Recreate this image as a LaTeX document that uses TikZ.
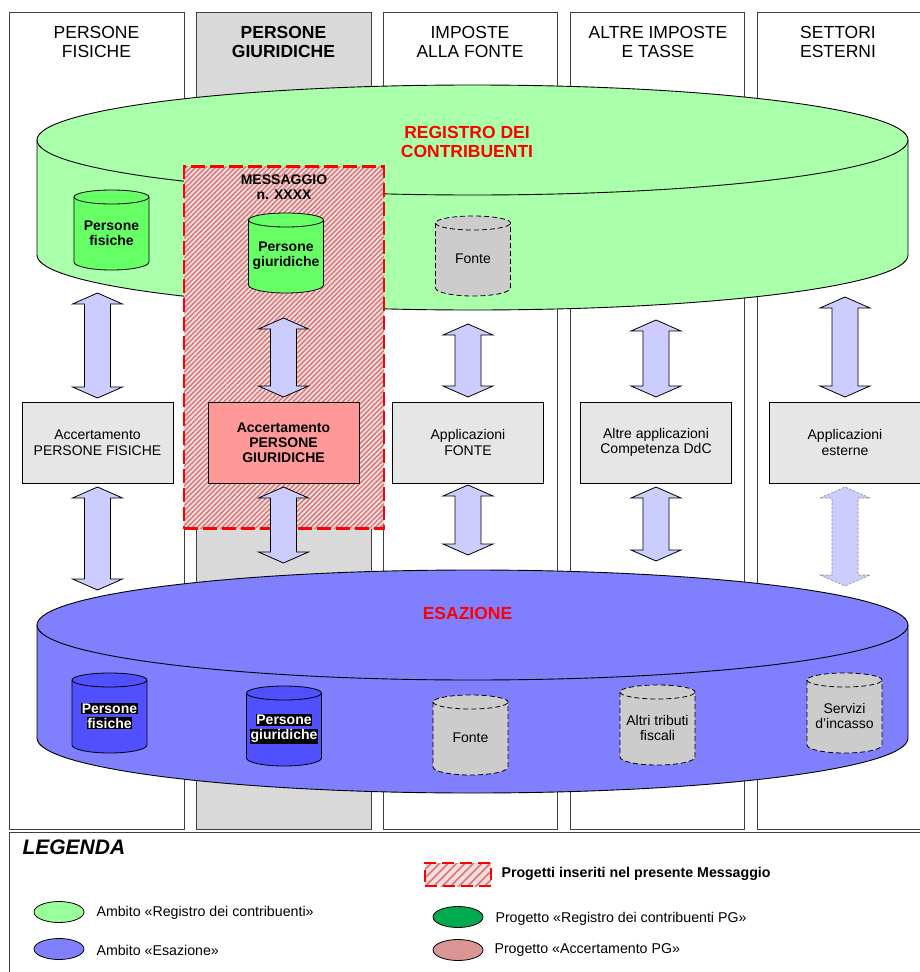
\documentclass[tikz,border=0pt]{standalone}
\usepackage{fontspec}
\setmainfont{Liberation Sans}
\usetikzlibrary{calc,shapes.geometric,patterns.meta}

\definecolor{colgray}{HTML}{D9D9D9}
\definecolor{reggreen}{HTML}{AAFFAA}
\definecolor{drumgreen}{HTML}{66FF66}
\definecolor{esablue}{HTML}{8080FF}
\definecolor{drumblue}{HTML}{5050FF}
\definecolor{drumgray}{HTML}{CCCCCC}
\definecolor{boxgray}{HTML}{E6E6E6}
\definecolor{boxred}{HTML}{FF9999}
\definecolor{arrowblue}{HTML}{CCCCFF}
\definecolor{hatchbg}{HTML}{F6DEDE}
\definecolor{hatchline}{HTML}{D87474}
\definecolor{leggreen}{HTML}{99FF99}
\definecolor{projgreen}{HTML}{00AA4F}
\definecolor{projpink}{HTML}{D99694}

% white text on black, as in the Esazione drums
\newcommand{\inv}[1]{{\setlength{\fboxsep}{0.8pt}\colorbox{black}{\textcolor{white}{#1}}}}

% block arrow with two heads, from top tip to bottom tip
\newcommand{\bigarrow}[3][]{%
  \draw[blockarrow,#1] ($(#2)+(-25,11)$) -- (#2) -- ($(#2)+(25,11)$) -- ($(#2)+(13,11)$)
    -- ($(#3)+(13,-11)$) -- ($(#3)+(25,-11)$) -- (#3) -- ($(#3)+(-25,-11)$)
    -- ($(#3)+(-13,-11)$) -- ($(#2)+(-13,11)$) -- cycle;}

% small database drum: name, style, centre x, top y, text
\newcommand{\drum}[5]{%
  \draw[#2] (#3-37.5,#4+7) -- (#3-37.5,#4+72)
    arc[start angle=180,end angle=360,x radius=37.5pt,y radius=8pt] -- (#3+37.5,#4+7)
    arc[start angle=0,end angle=180,x radius=37.5pt,y radius=7pt] -- cycle;
  \draw[#2, fill=none] (#3-37.5,#4+7) arc[start angle=180,end angle=360,x radius=37.5pt,y radius=7pt];
  \node (#1) at (#3,#4+43) [drumtext] {#5};}

\tikzset{
  column/.style={draw=black!75, line width=1pt},
  head/.style={align=center, font=\fontsize{17.5}{19.5}\selectfont},
  headbold/.style={align=center, font=\fontsize{17.5}{19.5}\selectfont\bfseries},
  title/.style={align=center, text=red, font=\fontsize{17.5}{19}\selectfont\bfseries},
  app/.style={draw, line width=0.9pt, fill=boxgray, minimum width=151pt, minimum height=81pt,
    align=center, font=\fontsize{14}{15.5}\selectfont},
  drumtext/.style={align=center, font=\fontsize{14}{15}\selectfont},
  greendrum/.style={draw, line width=0.8pt, fill=drumgreen},
  bluedrum/.style={draw, line width=0.8pt, fill=drumblue},
  graydrum/.style={draw, line width=0.8pt, fill=drumgray, dash pattern=on 5pt off 3pt},
  blockarrow/.style={draw, line width=0.8pt, fill=arrowblue, line join=miter},
  msgbox/.style={draw=red, line width=2.5pt, dash pattern=on 14pt off 5pt,
    preaction={fill=hatchbg}, pattern={Lines[angle=45,distance=3.5pt,line width=1.4pt]},
    pattern color=hatchline},
  legtext/.style={anchor=west, font=\fontsize{14.2}{16}\selectfont},
  legshape/.style={ellipse, draw, line width=0.8pt, minimum width=50pt, minimum height=21pt}
}

\begin{document}
\begin{tikzpicture}[x=1pt, y=-1pt]
\useasboundingbox[fill=white] (0,0) rectangle (919,972);

% columns
\draw[column] (9,12) rectangle (184,829);
\draw[column, fill=colgray] (196,12) rectangle (371,829);
\draw[column] (383,12) rectangle (557,829);
\draw[column] (570,12) rectangle (744,829);
\draw[column] (757,12) rectangle (925,829);

\node (hpf) at (96.5, 42) [head] {PERSONE\\FISICHE};
\node (hpg) at (283.5, 42) [headbold] {PERSONE\\GIURIDICHE};
\node (hif) at (470, 42) [head] {IMPOSTE\\ALLA FONTE};
\node (hai) at (658, 42) [head] {ALTRE IMPOSTE\\E TASSE};
\node (hse) at (838, 42) [head] {SETTORI\\ESTERNI};

% registro dei contribuenti
\draw[line width=0.9pt, fill=reggreen] (37,140) -- (37,255)
  arc[start angle=180,end angle=360,x radius=435.5pt,y radius=55pt] -- (908,140)
  arc[start angle=0,end angle=180,x radius=435.5pt,y radius=55pt] -- cycle;
\draw[line width=0.9pt] (37,140) arc[start angle=180,end angle=360,x radius=435.5pt,y radius=55pt];
\node (reg) at (467, 141.5) [title] {REGISTRO DEI\\CONTRIBUENTI};

% esazione
\draw[line width=0.9pt, fill=esablue] (37,625) -- (37,738)
  arc[start angle=180,end angle=360,x radius=435.5pt,y radius=55pt] -- (908,625)
  arc[start angle=0,end angle=180,x radius=435.5pt,y radius=55pt] -- cycle;
\draw[line width=0.9pt] (37,625) arc[start angle=180,end angle=360,x radius=435.5pt,y radius=55pt];
\node (esa) at (467.5, 613) [title] {ESAZIONE};

% messaggio
\node (msg) at (284, 347.5) [msgbox, minimum width=200pt, minimum height=362pt] {};
\node (msgt) at (284, 187) [align=center, font=\fontsize{14}{14.5}\selectfont\bfseries] {MESSAGGIO\\n. XXXX};

\drum{rpf}{greendrum}{111.5}{190}{\textbf{Persone}\\\textbf{fisiche}}
\drum{rpg}{greendrum}{286}{213}{\textbf{Persone}\\\textbf{giuridiche}}
\drum{rfo}{graydrum}{473}{216}{Fonte}

\drum{epf}{bluedrum}{109.5}{673}{\inv{\textbf{Persone}}\\\inv{\textbf{fisiche}}}
\drum{epg}{bluedrum}{284}{686}{\inv{\textbf{Persone}}\\\inv{\textbf{giuridiche}}}
\drum{efo}{graydrum}{470.5}{695}{Fonte}
\drum{eat}{graydrum}{657.5}{685}{Altri tributi\\fiscali}
\drum{esi}{graydrum}{844.5}{673}{Servizi\\d’incasso}

% applicazioni
\node (acpf) at (97.5, 442.5) [app] {Accertamento\\PERSONE FISICHE};
\node (acpg) at (283.5, 442.5) [app, fill=boxred, font=\fontsize{14}{15}\selectfont\bfseries] {Accertamento\\PERSONE\\GIURIDICHE};
\node (apfo) at (468, 442.5) [app] {Applicazioni\\FONTE};
\node (aaltr) at (656, 442.5) [app] {Altre applicazioni\\Competenza DdC};
\node (aest) at (845, 442.5) [app] {Applicazioni\\esterne};

\bigarrow{acpf.north |- 0,293}{acpf.north |- 0,398}
\bigarrow{acpf.south |- 0,487}{acpf.south |- 0,590}
\bigarrow{acpg.north |- 0,318}{acpg.north |- 0,397}
\bigarrow{acpg.south |- 0,487}{acpg.south |- 0,563}
\bigarrow{apfo.north |- 0,324}{apfo.north |- 0,397}
\bigarrow{apfo.south |- 0,485}{apfo.south |- 0,555}
\bigarrow{aaltr.north |- 0,320}{aaltr.north |- 0,397}
\bigarrow{aaltr.south |- 0,487}{aaltr.south |- 0,561}
\bigarrow{aest.north |- 0,297}{aest.north |- 0,397}
\bigarrow[draw=black!45, line width=0.6pt, dash pattern=on 2.5pt off 1.5pt]{aest.south |- 0,487}{aest.south |- 0,586}

% legenda
\draw[column] (9,832) rectangle (925,980);
\node (leg) at (19, 847) [anchor=west, font=\fontsize{21}{24}\selectfont\bfseries\itshape] {LEGENDA};
\node (lmsg) at (458, 874.5) [msgbox, line width=2.2pt, dash pattern=on 12pt off 6pt,
  pattern={Lines[angle=45,distance=6pt,line width=1.6pt]}, minimum width=66pt, minimum height=23pt] {};
\node (lmsgt) at (498, 874) [legtext, font=\fontsize{14.2}{16}\selectfont\bfseries] {Progetti inseriti nel presente Messaggio};
\node (lreg) at (59, 912) [legshape, fill=leggreen] {};
\node (lregt) at (93, 913) [legtext] {Ambito «Registro dei contribuenti»};
\node (lesa) at (59, 949) [legshape, fill=esablue] {};
\node (lesat) at (93, 950) [legtext] {Ambito «Esazione»};
\node (lprg) at (458, 917) [legshape, fill=projgreen] {};
\node (lprgt) at (492, 919) [legtext] {Progetto «Registro dei contribuenti PG»};
\node (lpac) at (458, 950) [legshape, fill=projpink] {};
\node (lpact) at (491, 950) [legtext] {Progetto «Accertamento PG»};
\end{tikzpicture}
\end{document}
